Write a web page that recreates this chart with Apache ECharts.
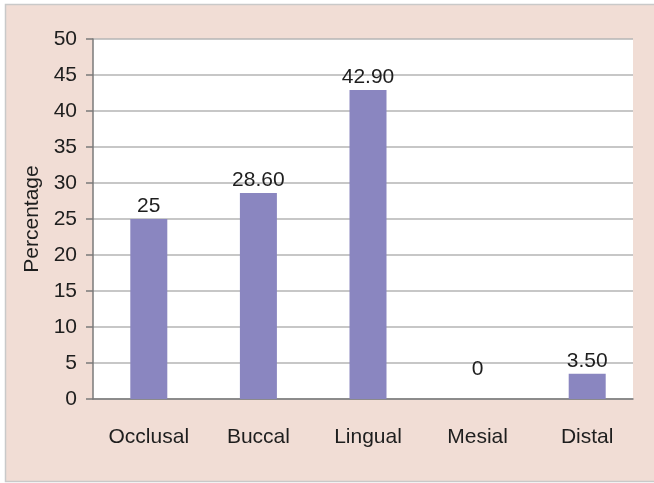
<!DOCTYPE html>
<html><head><meta charset="utf-8">
<script src="https://cdn.jsdelivr.net/npm/echarts@6/dist/echarts.min.js"></script>
<style>html,body{margin:0;padding:0;background:#fff}#c{width:654px;height:483px}</style>
</head><body><div id="c"></div>
<script>
const categories = ['Occlusal', 'Buccal', 'Lingual', 'Mesial', 'Distal'];
const values = [25, 28.6, 42.9, 0, 3.5];
const valueLabels = ['25', '28.60', '42.90', '0', '3.50'];
const yTicks = [0, 5, 10, 15, 20, 25, 30, 35, 40, 45, 50];

const FONT = '"Liberation Sans", Arial, sans-serif';
const chart = echarts.init(document.getElementById('c'), null, {renderer: 'canvas'});
const barData = values.map((v, i) => {
  const item = {value: v};
  if (v === 0) item.label = {distance: 19};
  return item;
});
chart.setOption({
  animation: false,
  backgroundColor: '#ffffff',
  graphic: [{
    type: 'rect', z: -10,
    shape: {x: 5.5, y: 4.5, width: 660, height: 477},
    style: {fill: '#f1ddd5', stroke: '#c9c9c9', lineWidth: 1.5}
  }],
  grid: [
    {left: 93, right: 21, top: 39, bottom: 84, show: true, backgroundColor: '#ffffff', borderWidth: 0},
    {left: 94, right: 12, top: 39, bottom: 84}
  ],
  xAxis: [
    {type: 'category', gridIndex: 0, data: categories,
     axisLine: {lineStyle: {color: '#7a7a7a', width: 1.5}},
     axisTick: {show: false}, axisLabel: {show: false}},
    {type: 'category', gridIndex: 1, data: categories,
     axisLine: {show: false}, axisTick: {show: false},
     axisLabel: {fontFamily: FONT, fontSize: 21, color: '#1e1e1e', margin: 28}}
  ],
  yAxis: [
    {type: 'value', gridIndex: 0, min: yTicks[0], max: yTicks[yTicks.length - 1], interval: 5,
     name: 'Percentage', nameLocation: 'middle', nameGap: 46,
     nameTextStyle: {fontFamily: FONT, fontSize: 21, color: '#1e1e1e'},
     axisLine: {show: true, lineStyle: {color: '#7a7a7a', width: 1.5}},
     axisTick: {show: true, length: 7, lineStyle: {color: '#7a7a7a', width: 1.5}},
     axisLabel: {fontFamily: FONT, fontSize: 21, color: '#1e1e1e', margin: 16},
     splitLine: {lineStyle: {color: '#b5b5b5', width: 1.5}}},
    {type: 'value', gridIndex: 1, min: yTicks[0], max: yTicks[yTicks.length - 1], interval: 5,
     show: false, splitLine: {show: false}}
  ],
  series: [{
    type: 'bar', xAxisIndex: 1, yAxisIndex: 1,
    data: barData, barWidth: 37,
    itemStyle: {color: '#8a86c0'},
    label: {show: true, position: 'top', distance: 2, fontFamily: FONT, fontSize: 21, color: '#1e1e1e',
      formatter: p => valueLabels[p.dataIndex]}
  }]
});
</script></body></html>
